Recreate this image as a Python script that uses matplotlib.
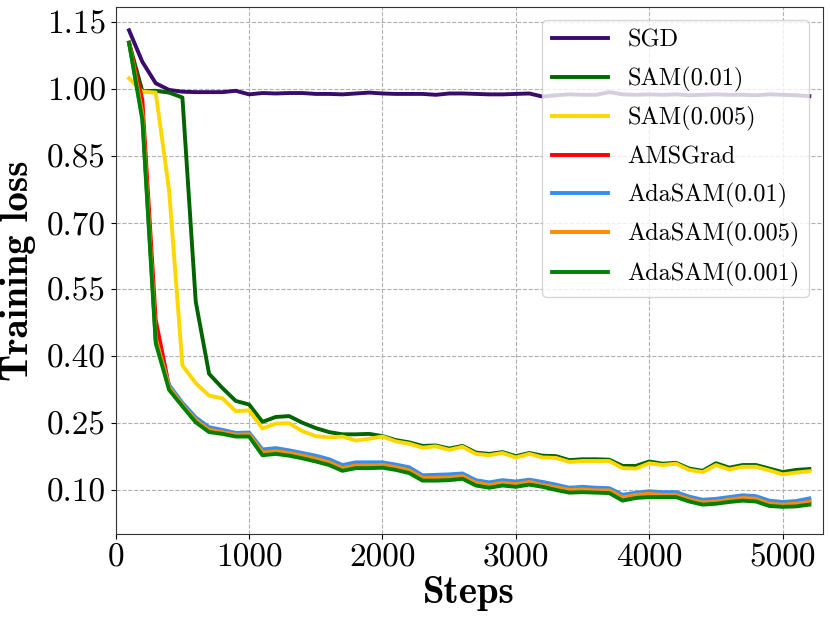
import matplotlib
matplotlib.use("Agg")
import matplotlib.pyplot as plt
import numpy as np

plt.rcParams["font.family"] = ["cmr10", "DejaVu Serif"]
plt.rcParams["axes.unicode_minus"] = False
plt.rcParams["mathtext.fontset"] = "cm"

steps = np.arange(100, 5300, 100)

sgd = [1.132, 1.061, 1.013, 0.998, 0.994, 0.993, 0.993, 0.993, 0.996, 0.988,
       0.991, 0.990, 0.991, 0.991, 0.989, 0.989, 0.988, 0.990, 0.992, 0.990,
       0.989, 0.989, 0.989, 0.987, 0.990, 0.990, 0.989, 0.988, 0.988, 0.989,
       0.990, 0.983, 0.986, 0.988, 0.987, 0.987, 0.993, 0.988, 0.987, 0.988,
       0.987, 0.988, 0.986, 0.987, 0.988, 0.987, 0.987, 0.986, 0.988, 0.987,
       0.986, 0.984]
sam_01 = [1.104, 0.995, 0.996, 0.992, 0.981, 0.522, 0.360, 0.328, 0.299, 0.291,
          0.252, 0.263, 0.265, 0.250, 0.238, 0.229, 0.224, 0.224, 0.225, 0.220,
          0.211, 0.206, 0.198, 0.199, 0.192, 0.198, 0.183, 0.180, 0.184, 0.175,
          0.182, 0.176, 0.175, 0.166, 0.168, 0.168, 0.167, 0.153, 0.153, 0.163,
          0.158, 0.160, 0.147, 0.142, 0.159, 0.149, 0.155, 0.155, 0.147, 0.139,
          0.144, 0.146]
sam_005 = [1.024, 0.994, 0.992, 0.773, 0.379, 0.339, 0.311, 0.305, 0.276, 0.278,
           0.237, 0.248, 0.249, 0.231, 0.220, 0.217, 0.219, 0.210, 0.214, 0.219,
           0.208, 0.203, 0.194, 0.197, 0.189, 0.196, 0.180, 0.177, 0.182, 0.172,
           0.180, 0.172, 0.171, 0.162, 0.164, 0.164, 0.164, 0.148, 0.147, 0.159,
           0.155, 0.158, 0.144, 0.139, 0.155, 0.145, 0.151, 0.151, 0.143, 0.134,
           0.138, 0.141]
amsgrad = [1.104, 0.975, 0.481, 0.332, 0.291, 0.257, 0.235, 0.230, 0.224, 0.225,
           0.184, 0.187, 0.183, 0.177, 0.170, 0.162, 0.149, 0.155, 0.155, 0.156,
           0.151, 0.144, 0.127, 0.127, 0.128, 0.131, 0.116, 0.111, 0.116, 0.113,
           0.118, 0.111, 0.106, 0.100, 0.101, 0.099, 0.099, 0.083, 0.089, 0.091,
           0.089, 0.089, 0.079, 0.072, 0.074, 0.078, 0.082, 0.080, 0.069, 0.067,
           0.069, 0.073]
adasam_01 = [1.104, 0.938, 0.435, 0.335, 0.295, 0.262, 0.240, 0.234, 0.227, 0.228,
             0.190, 0.193, 0.188, 0.182, 0.176, 0.168, 0.155, 0.161, 0.161, 0.161,
             0.156, 0.150, 0.132, 0.133, 0.134, 0.136, 0.121, 0.116, 0.121, 0.118,
             0.122, 0.117, 0.111, 0.104, 0.106, 0.104, 0.103, 0.088, 0.093, 0.096,
             0.094, 0.094, 0.084, 0.077, 0.079, 0.083, 0.087, 0.085, 0.075, 0.072,
             0.074, 0.080]
adasam_005 = [1.104, 0.945, 0.440, 0.330, 0.290, 0.256, 0.234, 0.229, 0.223, 0.224,
              0.183, 0.186, 0.182, 0.176, 0.169, 0.161, 0.148, 0.154, 0.154, 0.155,
              0.150, 0.143, 0.126, 0.126, 0.127, 0.130, 0.115, 0.110, 0.115, 0.112,
              0.117, 0.110, 0.105, 0.099, 0.100, 0.098, 0.098, 0.082, 0.088, 0.090,
              0.088, 0.088, 0.078, 0.071, 0.073, 0.077, 0.081, 0.079, 0.068, 0.066,
              0.068, 0.072]
adasam_001 = [1.104, 0.930, 0.429, 0.324, 0.287, 0.251, 0.229, 0.225, 0.219, 0.219,
              0.177, 0.180, 0.176, 0.170, 0.163, 0.155, 0.142, 0.148, 0.148, 0.149,
              0.144, 0.137, 0.120, 0.120, 0.121, 0.124, 0.109, 0.104, 0.109, 0.106,
              0.111, 0.106, 0.099, 0.093, 0.094, 0.093, 0.092, 0.075, 0.081, 0.083,
              0.083, 0.083, 0.073, 0.066, 0.068, 0.072, 0.075, 0.073, 0.063, 0.061,
              0.062, 0.066]

series = [
    ("SGD", sgd, "#3b0a6a"),
    ("SAM(0.01)", sam_01, "#006400"),
    ("SAM(0.005)", sam_005, "#ffd700"),
    ("AMSGrad", amsgrad, "#ff0000"),
    ("AdaSAM(0.01)", adasam_01, "#3a8ee8"),
    ("AdaSAM(0.005)", adasam_005, "#ff8c00"),
    ("AdaSAM(0.001)", adasam_001, "#008000"),
]

fig = plt.figure(figsize=(8.3, 6.21), dpi=100)
ax = fig.add_axes([0.1394, 0.1401, 0.8518, 0.8491])

for label, values, color in series:
    ax.plot(steps, values, color=color, lw=2.8, label=label)

ax.set_xlim(0, 5300)
ax.set_ylim(0.0, 1.185)
ax.set_yticks([1.15, 1.00, 0.85, 0.70, 0.55, 0.40, 0.25, 0.10])
ax.set_yticklabels(["1.15", "1.00", "0.85", "0.70", "0.55", "0.40", "0.25", "0.10"])
ax.set_xticks([0, 1000, 2000, 3000, 4000, 5000])
ax.tick_params(labelsize=24)
ax.grid(True, linestyle="--", color="#b0b0b0", lw=0.8)

ax.set_xlabel("Steps", fontsize=28, family="cmb10", labelpad=2)
ax.set_ylabel("Training loss", fontsize=28, family="cmb10", labelpad=8)

for sp in ax.spines.values():
    sp.set_color("#333333")

ax.legend(loc="upper right", fontsize=17.5, framealpha=0.8, labelspacing=0.6,
          handlelength=2.3, borderaxespad=0.55)

fig.savefig("out.png", dpi=100)
